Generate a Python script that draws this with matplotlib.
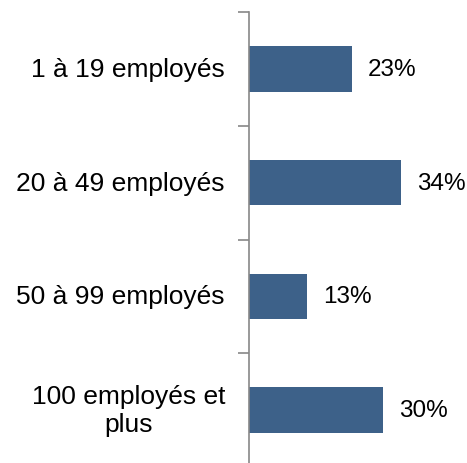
import matplotlib
matplotlib.use("Agg")
import matplotlib.pyplot as plt
import matplotlib.transforms as mtransforms

categories = ["1 à 19 employés", "20 à 49 employés", "50 à 99 employés", "100 employés et\nplus"]
values = [23, 34, 13, 30]
value_labels = ["23%", "34%", "13%", "30%"]

plt.rcParams['font.family'] = ['Liberation Sans', 'DejaVu Sans']

W, H = 467, 464
fig = plt.figure(figsize=(W/100, H/100), dpi=100)
ax_left = 249
ax_top = 13
ax_bottom = 468
xmax = 48
px_per = 4.47
ax = fig.add_axes([ax_left/W, (H-ax_bottom)/H, xmax*px_per/W, (ax_bottom-ax_top)/H])

FS_VAL = 17.5
FS_CAT = 19
n = len(categories)
ypos = list(range(n))
ax.barh(ypos, values, height=0.40, color="#3d6189")
ax.set_ylim(n-0.5, -0.5)
ax.set_xlim(0, xmax)
for y, v, lab in zip(ypos, values, value_labels):
    ax.text(v + 16/px_per, y, lab, va="center", ha="left", fontsize=FS_VAL, color="black")

ax.set_yticks([i-0.5 for i in range(n+1)], minor=False)
ax.set_yticklabels([])
ax.tick_params(axis="y", which="major", length=8, color="#888888", width=1.2, direction="out")
ax.set_xticks([])
for s in ["top", "right", "bottom"]:
    ax.spines[s].set_visible(False)
ax.spines["left"].set_color("#888888")
ax.spines["left"].set_linewidth(1.2)

tr = mtransforms.blended_transform_factory(fig.transFigure, ax.transData)
for y, c in zip(ypos, categories):
    ax.text(225/W, y, c, transform=tr, ha="right", va="center", multialignment="center",
            fontsize=FS_CAT, color="black", linespacing=1.2)

fig.savefig("out.png", dpi=100)
